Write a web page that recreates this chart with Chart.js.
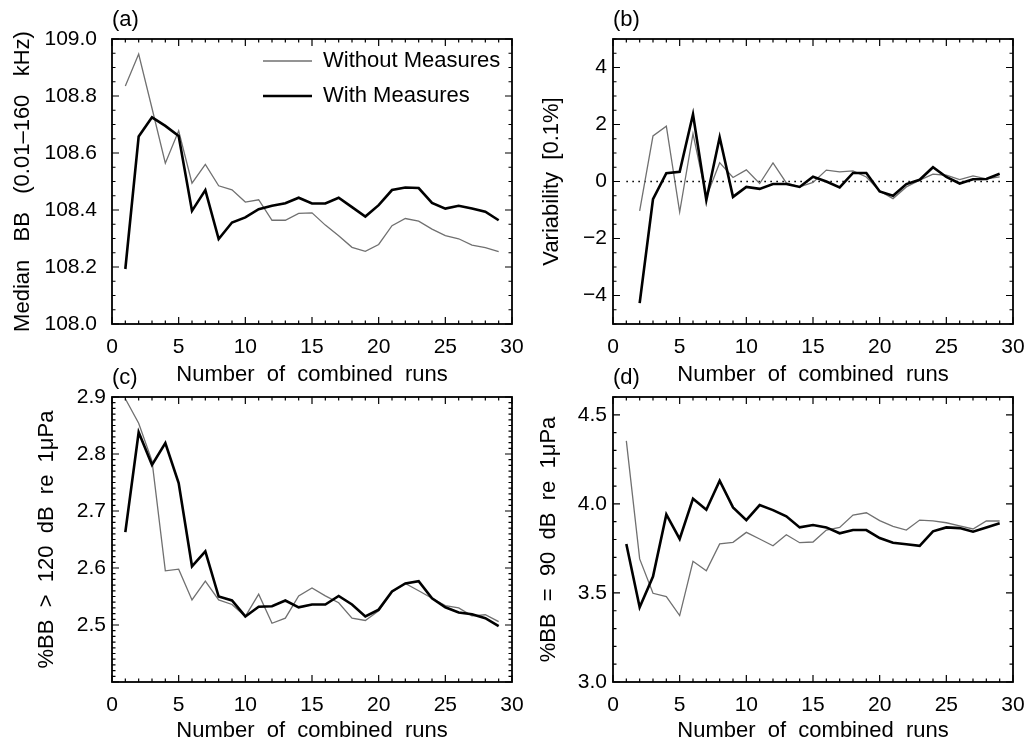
<!DOCTYPE html>
<html>
<head>
<meta charset="utf-8">
<script src="https://cdn.jsdelivr.net/npm/chart.js@4.4.1/dist/chart.umd.min.js"></script>
<style>
  html, body { margin: 0; padding: 0; background: #fff; }
  body { width: 1029px; height: 739px; position: relative; overflow: hidden; }
  canvas { position: absolute; }
</style>
</head>
<body>
<canvas id="panelA" width="540" height="392" style="left:0;top:0"></canvas>
<canvas id="panelB" width="515" height="392" style="left:514px;top:0"></canvas>
<canvas id="panelC" width="540" height="400" style="left:0;top:360px"></canvas>
<canvas id="panelD" width="515" height="400" style="left:514px;top:360px"></canvas>
<script>
// combined runs (x categories)
const runs = [1, 2, 3, 4, 5, 6, 7, 8, 9, 10, 11, 12, 13, 14, 15, 16, 17, 18, 19, 20, 21, 22, 23, 24, 25, 26, 27, 28, 29]
const runsFrom2 = [2, 3, 4, 5, 6, 7, 8, 9, 10, 11, 12, 13, 14, 15, 16, 17, 18, 19, 20, 21, 22, 23, 24, 25, 26, 27, 28, 29]
const zeroLineX = [1, 29.3]

// (a) median broadband level
const medianWithout = [108.835, 108.947, 108.757, 108.564, 108.678, 108.494, 108.56, 108.485, 108.471, 108.428, 108.436, 108.364, 108.364, 108.388, 108.39, 108.347, 108.31, 108.269, 108.255, 108.279, 108.345, 108.37, 108.361, 108.333, 108.31, 108.299, 108.277, 108.268, 108.254]
const medianWith = [108.193, 108.658, 108.725, 108.695, 108.66, 108.397, 108.47, 108.298, 108.356, 108.374, 108.403, 108.415, 108.424, 108.443, 108.423, 108.423, 108.443, 108.41, 108.377, 108.417, 108.47, 108.479, 108.477, 108.425, 108.405, 108.415, 108.405, 108.394, 108.364]

// (b) variability, starts at 2 runs
const varWithout = [-1.03, 1.6, 1.94, -1.07, 1.68, -0.55, 0.66, 0.14, 0.41, -0.07, 0.65, -0.05, -0.19, -0.03, 0.4, 0.34, 0.37, 0.16, -0.33, -0.6, -0.19, 0.05, 0.26, 0.22, 0.07, 0.2, 0.09, 0.16]
const varWith = [-4.27, -0.62, 0.29, 0.34, 2.36, -0.65, 1.55, -0.54, -0.19, -0.26, -0.09, -0.09, -0.19, 0.17, 0, -0.21, 0.3, 0.3, -0.35, -0.5, -0.09, 0.06, 0.5, 0.16, -0.07, 0.08, 0.09, 0.27]

// (c) %BB > 120 dB
const above120Without = [2.897, 2.854, 2.788, 2.595, 2.598, 2.544, 2.577, 2.544, 2.536, 2.515, 2.554, 2.503, 2.512, 2.551, 2.565, 2.551, 2.539, 2.512, 2.508, 2.525, 2.558, 2.573, 2.56, 2.547, 2.534, 2.53, 2.516, 2.518, 2.506]
const above120With = [2.663, 2.838, 2.781, 2.819, 2.749, 2.603, 2.629, 2.55, 2.543, 2.515, 2.532, 2.533, 2.543, 2.531, 2.536, 2.536, 2.551, 2.536, 2.515, 2.527, 2.559, 2.573, 2.577, 2.547, 2.531, 2.522, 2.519, 2.512, 2.498]

// (d) %BB = 90 dB
const at90Without = [4.354, 3.691, 3.498, 3.479, 3.373, 3.678, 3.625, 3.775, 3.784, 3.84, 3.803, 3.765, 3.827, 3.782, 3.786, 3.853, 3.868, 3.937, 3.95, 3.906, 3.874, 3.853, 3.909, 3.904, 3.894, 3.876, 3.859, 3.904, 3.904]
const at90With = [3.775, 3.42, 3.592, 3.941, 3.803, 4.029, 3.967, 4.13, 3.98, 3.909, 3.993, 3.965, 3.93, 3.868, 3.881, 3.868, 3.835, 3.853, 3.853, 3.808, 3.782, 3.773, 3.764, 3.846, 3.868, 3.864, 3.844, 3.868, 3.891]

// tick labels
const xTicks = [0, 5, 10, 15, 20, 25, 30]
const medianTicks = [108.0, 108.2, 108.4, 108.6, 108.8, 109.0]
const varTicks = [-4, -2, 0, 2, 4]
const above120Ticks = [2.5, 2.6, 2.7, 2.8, 2.9]
const at90Ticks = [3.0, 3.5, 4.0, 4.5]

const legendOrder = ['Without Measures', 'With Measures']

Chart.defaults.font.family = '"Liberation Sans", Arial, sans-serif'
Chart.defaults.color = '#000'

const tickFont = { size: 21 }
const titleFont = { size: 22 }

function tickRun (scale, minor, major, draw) {
  const n = Math.round((scale.max - scale.min) / minor)
  for (let i = 0; i <= n; i++) {
    const v = scale.min + i * minor
    const r = v / major
    const isMajor = Math.abs(r - Math.round(r)) < 1e-4
    draw(scale.getPixelForValue(v), isMajor ? 7 : 3.5)
  }
}

// IDL-like box with inward ticks on all four sides, panel letter and legend
const idlFrame = {
  id: 'idlFrame',
  afterDatasetsDraw (chart, args, opts) {
    const { ctx, chartArea: a } = chart
    const xs = chart.scales.x
    const ys = chart.scales.y
    ctx.save()
    ctx.strokeStyle = '#000'
    ctx.lineWidth = 1.2
    ctx.beginPath()
    tickRun(xs, opts.xMinor, opts.xMajor, (px, len) => {
      ctx.moveTo(px, a.bottom); ctx.lineTo(px, a.bottom - len)
      ctx.moveTo(px, a.top); ctx.lineTo(px, a.top + len)
    })
    tickRun(ys, opts.yMinor, opts.yMajor, (py, len) => {
      ctx.moveTo(a.left, py); ctx.lineTo(a.left + len, py)
      ctx.moveTo(a.right, py); ctx.lineTo(a.right - len, py)
    })
    ctx.stroke()
    ctx.lineWidth = 1.8
    ctx.strokeRect(a.left, a.top, a.right - a.left, a.bottom - a.top)

    ctx.fillStyle = '#000'
    ctx.font = '22px "Liberation Sans", Arial, sans-serif'
    ctx.textBaseline = 'middle'
    ctx.textAlign = 'left'
    ctx.fillText(opts.letter, a.left, a.top - 19)

    if (opts.legend) {
      const lg = opts.legend
      legendOrder.forEach((label, i) => {
        const ds = chart.data.datasets.find(d => d.label === label)
        const yy = a.top + lg.y0 + i * lg.gap
        ctx.strokeStyle = ds.borderColor
        ctx.lineWidth = ds.borderWidth
        ctx.beginPath()
        ctx.moveTo(a.left + lg.x0, yy)
        ctx.lineTo(a.left + lg.x1, yy)
        ctx.stroke()
        ctx.fillText(label, a.left + lg.textX, yy)
      })
    }
    ctx.restore()
  }
}

function makePanel (id, p) {
  const datasets = [
    {
      label: 'With Measures',
      data: p.x.map((x, i) => ({ x, y: p.withM[i] })),
      borderColor: '#000',
      borderWidth: 2.6,
      order: 1
    },
    {
      label: 'Without Measures',
      data: p.x.map((x, i) => ({ x, y: p.without[i] })),
      borderColor: '#707070',
      borderWidth: 1.3,
      order: 2
    }
  ]
  if (p.zeroLine) {
    datasets.push({
      label: 'zero',
      data: zeroLineX.map(x => ({ x, y: 0 })),
      borderColor: '#000',
      borderWidth: 1.6,
      borderDash: [1.6, 4.4],
      order: 3
    })
  }

  return new Chart(document.getElementById(id), {
    type: 'line',
    data: { datasets },
    options: {
      responsive: false,
      animation: false,
      events: [],
      layout: { padding: p.padding },
      elements: {
        point: { radius: 0 },
        line: { tension: 0, fill: false, borderJoinStyle: 'miter' }
      },
      plugins: {
        legend: { display: false },
        tooltip: { enabled: false },
        idlFrame: {
          letter: p.letter,
          xMinor: 1,
          xMajor: 5,
          yMinor: p.yMinor,
          yMajor: p.yMajor,
          legend: p.legend
        }
      },
      scales: {
        x: {
          type: 'linear',
          min: 0,
          max: 30,
          grid: { display: false, drawTicks: false },
          border: { display: false },
          afterBuildTicks: s => { s.ticks = xTicks.map(v => ({ value: v })) },
          afterFit: s => {
            s.height = p.xAxisHeight
            s.paddingLeft = 0
            s.paddingRight = 0
          },
          ticks: { font: tickFont, padding: 11, maxRotation: 0, autoSkip: false },
          title: {
            display: true,
            text: 'Number  of  combined  runs',
            font: titleFont,
            padding: { top: 0, bottom: p.xTitlePad }
          }
        },
        y: {
          type: 'linear',
          min: p.yMin,
          max: p.yMax,
          grid: { display: false, drawTicks: false },
          border: { display: false },
          afterBuildTicks: s => { s.ticks = p.yTicks.map(v => ({ value: v })) },
          afterFit: s => {
            s.width = p.yAxisWidth
            s.paddingTop = 0
            s.paddingBottom = 0
          },
          ticks: { font: tickFont, padding: p.yTickPad, autoSkip: false, callback: p.yFormat },
          title: {
            display: true,
            text: p.yTitle,
            font: titleFont,
            padding: { top: p.yTitlePad, bottom: 0 }
          }
        }
      }
    },
    plugins: [idlFrame]
  })
}

const oneDecimal = v => v.toFixed(1)
const signedInt = v => (v < 0 ? '\u2212' + Math.abs(v) : String(v))

makePanel('panelA', {
  letter: '(a)',
  x: runs,
  without: medianWithout,
  withM: medianWith,
  yMin: 108, yMax: 109, yTicks: medianTicks, yFormat: oneDecimal,
  yMinor: 0.05, yMajor: 0.2,
  yTitle: 'Median   BB   (0.01\u2013160   kHz)',
  padding: { top: 39, right: 28, left: 0, bottom: 0 },
  yAxisWidth: 112, xAxisHeight: 68, xTitlePad: 4, yTickPad: 15, yTitlePad: 10,
  legend: { x0: 151, x1: 200, textX: 211, y0: 22, gap: 35 }
})

makePanel('panelB', {
  letter: '(b)',
  x: runsFrom2,
  without: varWithout,
  withM: varWith,
  zeroLine: true,
  yMin: -5, yMax: 5, yTicks: varTicks, yFormat: signedInt,
  yMinor: 0.5, yMajor: 2,
  yTitle: 'Variability  [0.1%]',
  padding: { top: 39, right: 16, left: 0, bottom: 0 },
  yAxisWidth: 99, xAxisHeight: 68, xTitlePad: 4, yTickPad: 6, yTitlePad: 25
})

makePanel('panelC', {
  letter: '(c)',
  x: runs,
  without: above120Without,
  withM: above120With,
  yMin: 2.4, yMax: 2.9, yTicks: above120Ticks, yFormat: oneDecimal,
  yMinor: 0.01, yMajor: 0.1,
  yTitle: '%BB  >  120  dB  re  1\u03bcPa',
  padding: { top: 37, right: 28, left: 0, bottom: 0 },
  yAxisWidth: 112, xAxisHeight: 78, xTitlePad: 16, yTickPad: 6, yTitlePad: 34
})

makePanel('panelD', {
  letter: '(d)',
  x: runs,
  without: at90Without,
  withM: at90With,
  yMin: 3.0, yMax: 4.6, yTicks: at90Ticks, yFormat: oneDecimal,
  yMinor: 0.1, yMajor: 0.5,
  yTitle: '%BB  =  90  dB  re  1\u03bcPa',
  padding: { top: 37, right: 16, left: 0, bottom: 0 },
  yAxisWidth: 99, xAxisHeight: 78, xTitlePad: 16, yTickPad: 6, yTitlePad: 22
})
</script>
</body>
</html>
